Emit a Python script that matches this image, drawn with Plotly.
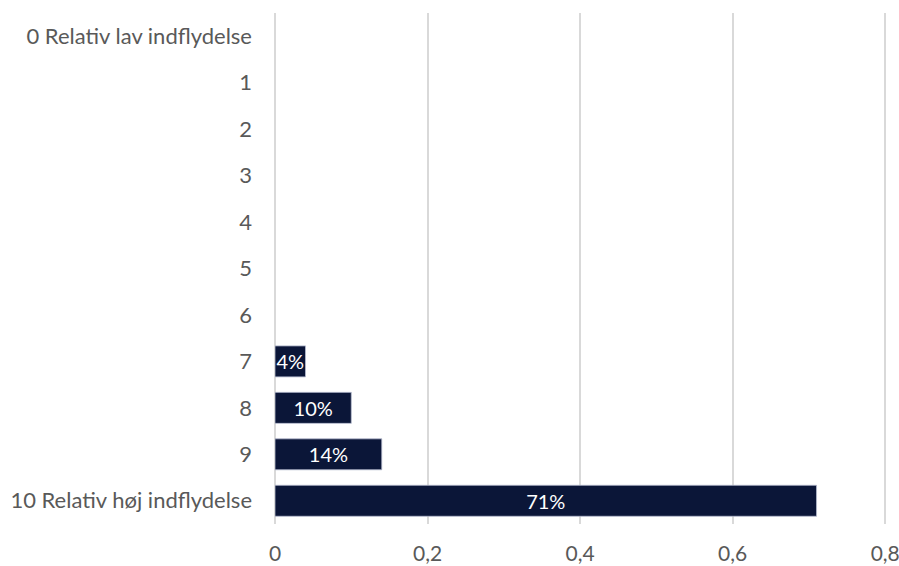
import plotly.graph_objects as go

categories = ["0 Relativ lav indflydelse", "1", "2", "3", "4", "5", "6", "7", "8", "9", "10 Relativ høj indflydelse"]
values = [None, None, None, None, None, None, None, 0.04, 0.10, 0.14, 0.71]
labels = ["" if v is None else f"{round(v*100)}%" for v in values]
tick_vals = [0, 0.2, 0.4, 0.6, 0.8]
tick_text = ["0", "0,2", "0,4", "0,6", "0,8"]

FONT = "Lato, Open Sans, sans-serif"

fig = go.Figure(go.Bar(
    y=categories, x=values, orientation="h",
    marker=dict(color="#0B1638", line=dict(color="#B8BCD0", width=0.8)),
    text=labels, textposition="inside", insidetextanchor="middle",
    constraintext="none", textangle=0,
    textfont=dict(color="white", size=20, family=FONT),
))

fig.update_layout(
    width=899, height=566,
    margin=dict(l=275, r=10, t=13, b=42),
    plot_bgcolor="white", paper_bgcolor="white",
    bargap=0.333, showlegend=False,
    font=dict(family=FONT, size=21, color="#595959"),
    separators=",.",
)
fig.update_xaxes(range=[0, 0.805], tickvals=tick_vals, ticktext=tick_text,
                 showgrid=True, gridcolor="#D9D9D9", gridwidth=1.5,
                 zeroline=True, zerolinecolor="#D9D9D9", zerolinewidth=1.5,
                 showline=False, ticks="", automargin=False,
                 ticklabeloverflow="allow",
                 ticklabelstandoff=15, fixedrange=True)
fig.update_yaxes(categoryorder="array", categoryarray=categories[::-1],
                 showgrid=False, ticks="", automargin=False,
                 tickfont=dict(size=22), ticklabeloverflow="allow",
                 ticklabelstandoff=22, fixedrange=True)
fig.write_html("out.html", config={"displayModeBar": False},
               post_script="document.body.style.margin='0';document.body.style.overflow='hidden';")
